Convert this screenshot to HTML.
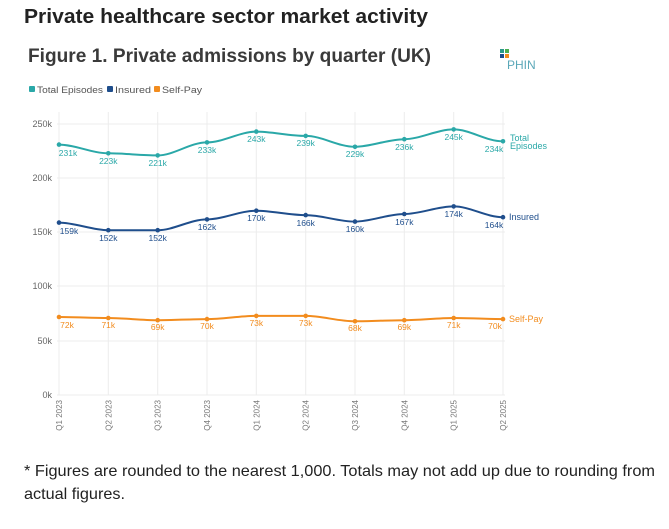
<!DOCTYPE html>
<html><head><meta charset="utf-8"><style>
body{margin:0;background:#fff;width:669px;height:524px;overflow:hidden;font-family:"Liberation Sans",Arial,sans-serif;}
</style></head><body>
<svg width="669" height="524" xmlns="http://www.w3.org/2000/svg" font-family="Liberation Sans, Arial, sans-serif">
<text x="24" y="23" font-size="20" font-weight="bold" fill="#222" textLength="404" lengthAdjust="spacingAndGlyphs">Private healthcare sector market activity</text>
<text x="28" y="62" font-size="19" font-weight="bold" fill="#3a3a3a" textLength="403" lengthAdjust="spacingAndGlyphs">Figure 1. Private admissions by quarter (UK)</text>
<rect x="500" y="49" width="4" height="4" fill="#2a9a8a"/><rect x="505" y="49" width="4" height="4" fill="#4caf50"/>
<rect x="500" y="54" width="4" height="4" fill="#1f4e8c"/><rect x="505" y="54" width="4" height="4" fill="#f28c1e"/>
<text x="507" y="69" font-size="12" fill="#5aa7b8">PHIN</text>
<rect x="29" y="86" width="6" height="6" rx="1" fill="#2aa8a8"/><text x="37" y="93" font-size="9" fill="#555" textLength="66" lengthAdjust="spacingAndGlyphs">Total Episodes</text>
<rect x="107" y="86" width="6" height="6" rx="1" fill="#1f4e8c"/><text x="115" y="93" font-size="9" fill="#555" textLength="36" lengthAdjust="spacingAndGlyphs">Insured</text>
<rect x="154" y="86" width="6" height="6" rx="1" fill="#f28c1e"/><text x="162" y="93" font-size="9" fill="#555" textLength="40" lengthAdjust="spacingAndGlyphs">Self-Pay</text>
<g stroke="#ececec" stroke-width="1">
<line x1="57" y1="124" x2="505" y2="124"/><line x1="57" y1="178" x2="505" y2="178"/><line x1="57" y1="232" x2="505" y2="232"/>
<line x1="57" y1="286" x2="505" y2="286"/><line x1="57" y1="341" x2="505" y2="341"/><line x1="57" y1="395" x2="505" y2="395"/>
<line x1="59" y1="112" x2="59" y2="395"/><line x1="108.3" y1="112" x2="108.3" y2="395"/><line x1="157.7" y1="112" x2="157.7" y2="395"/>
<line x1="207" y1="112" x2="207" y2="395"/><line x1="256.3" y1="112" x2="256.3" y2="395"/><line x1="305.7" y1="112" x2="305.7" y2="395"/>
<line x1="355" y1="112" x2="355" y2="395"/><line x1="404.3" y1="112" x2="404.3" y2="395"/><line x1="453.7" y1="112" x2="453.7" y2="395"/>
<line x1="503" y1="112" x2="503" y2="395"/>
</g>
<g font-size="9" fill="#666" text-anchor="end">
<text x="52" y="127">250k</text><text x="52" y="181">200k</text><text x="52" y="235">150k</text>
<text x="52" y="289">100k</text><text x="52" y="344">50k</text><text x="52" y="398">0k</text>
</g>
<g font-size="8" fill="#777" text-anchor="end">
<text transform="translate(62,400) rotate(-90)">Q1 2023</text><text transform="translate(111.3,400) rotate(-90)">Q2 2023</text>
<text transform="translate(160.7,400) rotate(-90)">Q3 2023</text><text transform="translate(210,400) rotate(-90)">Q4 2023</text>
<text transform="translate(259.3,400) rotate(-90)">Q1 2024</text><text transform="translate(308.7,400) rotate(-90)">Q2 2024</text>
<text transform="translate(358,400) rotate(-90)">Q3 2024</text><text transform="translate(407.3,400) rotate(-90)">Q4 2024</text>
<text transform="translate(456.7,400) rotate(-90)">Q1 2025</text><text transform="translate(506,400) rotate(-90)">Q2 2025</text>
</g>
<path fill="none" stroke="#2aa8a8" stroke-width="2" d="M59,144.6 C75,144.6 92,153.3 108.3,153.3 C124,153.3 141,155.4 157.7,155.4 C174,155.4 190,142.4 207,142.4 C223,142.4 240,131.6 256.3,131.6 C272,131.6 289,135.9 305.7,135.9 C322,135.9 338,146.8 355,146.8 C371,146.8 388,139.2 404.3,139.2 C420,139.2 437,129.4 453.7,129.4 C470,129.4 486,141.3 503,141.3"/>
<g fill="#2aa8a8"><circle cx="59" cy="144.6" r="2.3"/><circle cx="108.3" cy="153.3" r="2.3"/><circle cx="157.7" cy="155.4" r="2.3"/><circle cx="207" cy="142.4" r="2.3"/><circle cx="256.3" cy="131.6" r="2.3"/><circle cx="305.7" cy="135.9" r="2.3"/><circle cx="355" cy="146.8" r="2.3"/><circle cx="404.3" cy="139.2" r="2.3"/><circle cx="453.7" cy="129.4" r="2.3"/><circle cx="503" cy="141.3" r="2.3"/></g>
<g font-size="8.5" fill="#2aa8a8" text-anchor="middle">
<text x="68" y="156">231k</text><text x="108.3" y="164">223k</text><text x="157.7" y="166">221k</text><text x="207" y="153">233k</text><text x="256.3" y="142">243k</text><text x="305.7" y="146">239k</text><text x="355" y="157">229k</text><text x="404.3" y="150">236k</text><text x="453.7" y="140">245k</text><text x="494" y="152">234k</text>
<text x="510" y="141" text-anchor="start" font-size="9">Total</text><text x="510" y="149" text-anchor="start" font-size="9">Episodes</text>
</g>
<path fill="none" stroke="#1f4e8c" stroke-width="2" d="M59,222.6 C75,222.6 92,230.2 108.3,230.2 C124,230.2 141,230.2 157.7,230.2 C174,230.2 190,219.4 207,219.4 C223,219.4 240,210.7 256.3,210.7 C272,210.7 289,215.1 305.7,215.1 C322,215.1 338,221.6 355,221.6 C371,221.6 388,214 404.3,214 C420,214 437,206.4 453.7,206.4 C470,206.4 486,217.2 503,217.2"/>
<g fill="#1f4e8c"><circle cx="59" cy="222.6" r="2.3"/><circle cx="108.3" cy="230.2" r="2.3"/><circle cx="157.7" cy="230.2" r="2.3"/><circle cx="207" cy="219.4" r="2.3"/><circle cx="256.3" cy="210.7" r="2.3"/><circle cx="305.7" cy="215.1" r="2.3"/><circle cx="355" cy="221.6" r="2.3"/><circle cx="404.3" cy="214" r="2.3"/><circle cx="453.7" cy="206.4" r="2.3"/><circle cx="503" cy="217.2" r="2.3"/></g>
<g font-size="8.5" fill="#1f4e8c" text-anchor="middle">
<text x="69" y="234">159k</text><text x="108.3" y="241">152k</text><text x="157.7" y="241">152k</text><text x="207" y="230">162k</text><text x="256.3" y="221">170k</text><text x="305.7" y="226">166k</text><text x="355" y="232">160k</text><text x="404.3" y="225">167k</text><text x="453.7" y="217">174k</text><text x="494" y="228">164k</text>
<text x="509" y="220" text-anchor="start" font-size="9">Insured</text>
</g>
<path fill="none" stroke="#f28c1e" stroke-width="2" d="M59,317 C75,317 92,318 108.3,318 C124,318 141,320.2 157.7,320.2 C174,320.2 190,319.1 207,319.1 C223,319.1 240,315.9 256.3,315.9 C272,315.9 289,315.9 305.7,315.9 C322,315.9 338,321.3 355,321.3 C371,321.3 388,320.2 404.3,320.2 C420,320.2 437,318 453.7,318 C470,318 486,319.1 503,319.1"/>
<g fill="#f28c1e"><circle cx="59" cy="317" r="2.3"/><circle cx="108.3" cy="318" r="2.3"/><circle cx="157.7" cy="320.2" r="2.3"/><circle cx="207" cy="319.1" r="2.3"/><circle cx="256.3" cy="315.9" r="2.3"/><circle cx="305.7" cy="315.9" r="2.3"/><circle cx="355" cy="321.3" r="2.3"/><circle cx="404.3" cy="320.2" r="2.3"/><circle cx="453.7" cy="318" r="2.3"/><circle cx="503" cy="319.1" r="2.3"/></g>
<g font-size="8.5" fill="#f28c1e" text-anchor="middle">
<text x="67" y="328">72k</text><text x="108.3" y="328">71k</text><text x="157.7" y="330">69k</text><text x="207" y="329">70k</text><text x="256.3" y="326">73k</text><text x="305.7" y="326">73k</text><text x="355" y="331">68k</text><text x="404.3" y="330">69k</text><text x="453.7" y="328">71k</text><text x="495" y="329">70k</text>
<text x="509" y="322" text-anchor="start" font-size="9">Self-Pay</text>
</g>
<text x="24" y="476" font-size="16" fill="#222" textLength="631" lengthAdjust="spacingAndGlyphs">* Figures are rounded to the nearest 1,000. Totals may not add up due to rounding from</text>
<text x="24" y="499" font-size="16" fill="#222" textLength="101" lengthAdjust="spacingAndGlyphs">actual figures.</text>
</svg>
</body></html>
